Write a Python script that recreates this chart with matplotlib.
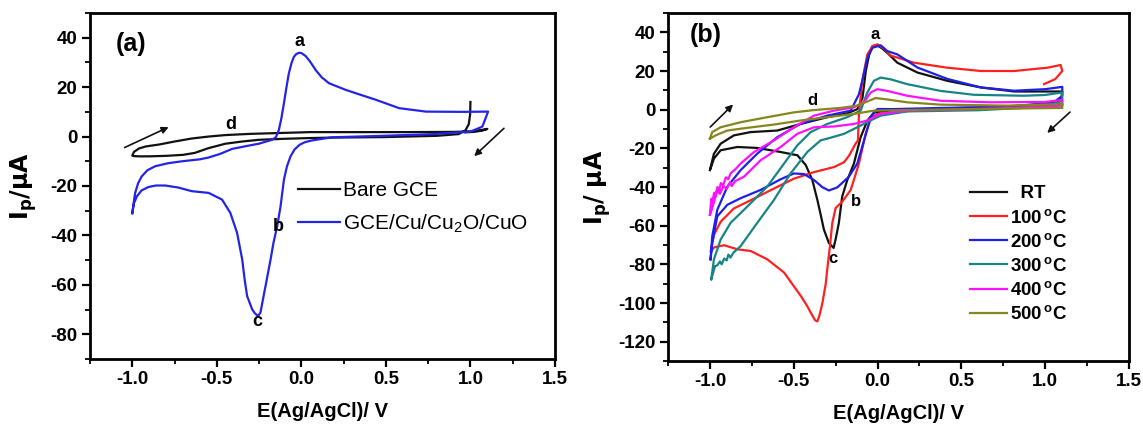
import matplotlib
matplotlib.use("Agg")
import matplotlib.pyplot as plt
from matplotlib.ticker import MultipleLocator, FuncFormatter

plt.rcParams['font.family'] = ['Liberation Sans', 'DejaVu Sans']
plt.rcParams['mathtext.default'] = 'regular'

# ---- panel (a): bare GCE vs GCE/Cu/Cu2O/CuO ----
bare_E = [1.0, 0.998, 0.99, 0.97, 0.93, 0.8, 0.5, 0.2, 0.05, -0.1, -0.25, -0.35, -0.45,
          -0.55, -0.63, -0.7, -0.8, -0.9, -0.96, -0.99, -1.0, -0.99, -0.96, -0.92,
          -0.84, -0.75, -0.65, -0.55, -0.45, -0.3, -0.15, 0.05, 0.3, 0.6, 0.9, 1.0,
          1.06, 1.1, 1.07, 1.02, 0.97]
bare_I = [14.0, 9.0, 5.0, 2.5, 1.0, 0.3, -0.2, -0.4, -0.6, -0.9, -1.3, -2.0, -2.9,
          -4.7, -6.6, -7.4, -7.8, -8.0, -8.0, -7.9, -7.7, -6.2, -4.8, -4.0,
          -3.2, -2.0, -0.8, 0.0, 0.6, 1.1, 1.4, 1.8, 1.8, 1.8, 1.9, 2.1,
          2.6, 3.1, 2.4, 1.9, 1.7]

cu_E = [-1.0, -0.99, -0.983, -0.965, -0.944, -0.91, -0.864, -0.79, -0.706, -0.6, -0.55,
        -0.48, -0.41, -0.33, -0.252, -0.173, -0.15, -0.133, -0.118, -0.103, -0.088,
        -0.074, -0.058, -0.044, -0.03, -0.014, 0.0, 0.025, 0.05, 0.085, 0.12, 0.163,
        0.262, 0.35, 0.44, 0.578, 0.737, 0.95, 1.104, 1.09, 1.07, 1.0, 0.78, 0.48,
        0.18, 0.06, 0.02, -0.01, -0.04, -0.064, -0.085, -0.103, -0.123, -0.143,
        -0.165, -0.182, -0.212, -0.242, -0.256, -0.275, -0.291, -0.321, -0.335,
        -0.35, -0.38, -0.42, -0.469, -0.548, -0.647, -0.73, -0.805, -0.86, -0.904,
        -0.945, -0.973, -0.99, -1.0]
cu_I = [-31.0, -26.0, -22.8, -18.8, -16.1, -13.6, -12.0, -10.8, -10.0, -9.2, -8.5,
        -7.0, -5.0, -3.9, -2.9, -1.3, -0.2, 2.7, 7.5, 13.5, 20.0,
        25.6, 29.8, 32.3, 33.4, 33.9, 33.8, 32.6, 30.5, 26.9, 24.0, 21.6,
        18.9, 16.9, 14.9, 11.5, 10.1, 10.0, 10.1, 7.5, 4.0, 2.0, 1.0, 0.3,
        -0.3, -1.6, -2.3, -3.3, -5.2, -8.0, -12.0, -17.4, -28.2, -36.3,
        -43.0, -49.7, -60.5, -71.2, -72.6, -71.5, -69.9, -64.5, -58.0,
        -49.7, -39.0, -30.9, -25.5, -22.8, -22.1, -20.6, -19.8, -19.8, -20.4,
        -21.8, -24.2, -27.0, -31.0]

# ---- panel (b): annealing temperature series ----
temp_labels = ['  RT', '100$^{\\,o}$C', '200$^{\\,o}$C', '300$^{\\,o}$C', '400$^{\\,o}$C',
               '500$^{\\,o}$C']
temp_colors = ['#111111', '#ff2020', '#1f1fe8', '#178585', '#ff10ff', '#86861a']

rt_E = [-1.0, -0.976, -0.936, -0.857, -0.757, -0.598, -0.459, -0.3, -0.18, -0.12, -0.09,
        -0.07, -0.05, -0.031, -0.005, 0.03, 0.058, 0.118, 0.238, 0.417, 0.616, 0.815,
        1.0, 1.102, 1.096, 1.052, 0.774, 0.376, 0.098, 0.018, -0.021, -0.061, -0.101,
        -0.141, -0.181, -0.211, -0.231, -0.25, -0.262, -0.29, -0.32, -0.34, -0.359,
        -0.389, -0.428, -0.478, -0.578, -0.717, -0.836, -0.936, -0.976, -0.996]
rt_I = [-31.3, -22.8, -17.6, -13.3, -11.6, -10.8, -7.4, -3.9, -1.9, 0.3, 6.0,
        20.0, 28.5, 32.8, 33.5, 31.5, 29.4, 24.3, 19.2, 14.9, 11.5, 9.4,
        9.4, 9.4, 5.5, 2.1, 0.9, 0.3, -0.2, -1.0, -1.4, -5.7, -14.3,
        -27.9, -36.5, -45.0, -58.7, -67.0, -71.5, -69.0, -62.0, -54.0, -46.7,
        -36.4, -28.7, -23.6, -21.9, -19.8, -19.3, -21.0, -25.3, -30.4]

t100_E = [1.102, 0.7, 0.317, -0.001, -0.041, -0.071, -0.111, -0.16, -0.21, -0.25, -0.27,
          -0.284, -0.3, -0.309, -0.329, -0.345, -0.359, -0.372, -0.389, -0.42, -0.459,
          -0.558, -0.658, -0.757, -0.837, -0.916, -0.976, -0.996, -0.976, -0.936,
          -0.857, -0.737, -0.618, -0.499, -0.379, -0.26, -0.2, -0.17, -0.131, -0.117,
          -0.111, -0.091, -0.061, -0.031, -0.001, 0.04, 0.078, 0.217, 0.417, 0.616,
          0.815, 1.013, 1.092, 1.102, 1.06, 0.993]
t100_I = [3.0, 1.5, 0.35, -2.2, -4.8, -12.5, -27.9, -41.5, -47.5, -50.9, -58.6,
          -70.6, -82.6, -90.0, -100.0, -106.0, -109.5, -109.0, -106.5, -101.5, -96.2,
          -84.2, -77.4, -73.1, -72.2, -70.1, -71.3, -73.6, -64.8, -58.0,
          -51.1, -46.0, -40.8, -35.7, -32.3, -29.7, -27.2, -23.8, -17.6, -15.9,
          -2.2, 14.9, 28.5, 32.8, 33.8, 31.5, 28.0, 24.3, 21.7, 20.0,
          20.0, 21.7, 23.1, 20.0, 15.8, 13.2]

t200_E = [-0.996, -0.986, -0.956, -0.896, -0.817, -0.717, -0.598, -0.459, -0.3, -0.16,
          -0.111, -0.091, -0.06, -0.03, 0.019, 0.058, 0.118, 0.238, 0.417, 0.616, 0.815,
          1.0, 1.102, 1.102, 1.052, 0.774, 0.376, 0.098, -0.001, -0.041, -0.081, -0.121,
          -0.171, -0.24, -0.29, -0.329, -0.379, -0.439, -0.499, -0.578, -0.697, -0.817,
          -0.896, -0.956, -0.986, -0.996]
t200_I = [-77.4, -65.5, -51.8, -39.8, -31.3, -22.7, -14.2, -7.3, -3.1, -0.5,
          8.0, 15.0, 27.0, 32.0, 33.3, 30.3, 28.6, 21.8, 15.9, 11.5, 9.8,
          10.6, 11.8, 7.2, 3.8, 1.5, 0.9, 0.3, 0.35, -4.0, -16.0, -27.9,
          -34.7, -40.2, -41.8, -40.1, -36.4, -33.3, -33.0, -36.0, -41.5, -45.8,
          -49.2, -55.2, -68.9, -77.4]

t300_E = [-0.992, -0.976, -0.936, -0.877, -0.777, -0.658, -0.558, -0.479, -0.399, -0.3,
          -0.181, -0.101, -0.061, -0.022, 0.018, 0.078, 0.177, 0.376, 0.575, 0.873, 1.0,
          1.102, 1.102, 1.0, 0.6, 0.177, 0.018, -0.042, -0.121, -0.2, -0.28, -0.34,
          -0.419, -0.519, -0.618, -0.718, -0.817, -0.86, -0.877, -0.89, -0.9, -0.915,
          -0.93, -0.94, -0.956, -0.97, -0.986, -0.992]
t300_I = [-87.7, -77.4, -67.2, -58.6, -50.1, -39.8, -27.9, -18.5, -11.6, -7.4,
          -3.9, -0.5, 8.9, 14.9, 16.6, 15.7, 13.2, 9.7, 7.7, 7.2, 7.6,
          8.9, 4.6, 1.5, -0.3, -0.9, -3.1, -5.6, -9.1, -12.5, -14.5, -15.9,
          -21.9, -33.0, -46.7, -58.6, -70.6, -74.0, -76.5, -75.0, -78.0, -77.0,
          -80.0, -78.5, -80.5, -81.0, -86.0, -87.7]

t400_E = [-1.0, -0.996, -0.99, -0.985, -0.975, -0.965, -0.955, -0.945, -0.935, -0.92,
          -0.905, -0.89, -0.877, -0.85, -0.817, -0.737, -0.618, -0.499, -0.379, -0.26,
          -0.141, -0.081, -0.041, -0.002, 0.058, 0.177, 0.376, 0.675, 1.0, 1.102, 1.102,
          0.8, 0.177, 0.018, -0.061, -0.141, -0.26, -0.379, -0.479, -0.578, -0.698,
          -0.797, -0.85, -0.87, -0.88, -0.9, -0.92, -0.94, -0.96, -0.975, -0.99, -1.0]
t400_I = [-54.4, -50.0, -46.0, -48.0, -43.0, -45.0, -40.0, -42.0, -38.0, -39.0,
          -35.0, -36.0, -33.0, -31.0, -27.9, -21.9, -15.9, -9.1, -3.1, -0.5,
          1.2, 3.8, 8.9, 10.6, 9.7, 7.2, 4.6, 3.8, 4.0, 5.0, 2.1,
          0.8, -0.5, -2.2, -5.6, -7.4, -8.7, -9.1, -12.5, -19.3, -26.2,
          -34.7, -37.0, -39.5, -37.5, -41.0, -39.5, -43.5, -42.0, -47.5, -52.0, -54.4]

t500_E = [-1.0, -0.986, -0.936, -0.817, -0.658, -0.499, -0.379, -0.22, -0.121, -0.051,
          -0.012, 0.038, 0.177, 0.376, 0.774, 1.102, 1.102, 0.575, 0.177, -0.022,
          -0.141, -0.3, -0.459, -0.618, -0.777, -0.897, -0.966, -1.0]
t500_I = [-15.0, -11.6, -9.1, -6.5, -3.9, -1.4, -0.2, 0.9, 2.1, 4.6,
          6.0, 5.5, 3.8, 2.6, 2.1, 2.9, 0.9, 0.3, -0.2, -0.5,
          -2.2, -3.9, -5.6, -7.7, -9.4, -10.8, -13.3, -15.0]

temp_E = [rt_E, t100_E, t200_E, t300_E, t400_E, t500_E]
temp_I = [rt_I, t100_I, t200_I, t300_I, t400_I, t500_I]

W, H = 1143, 426
fig = plt.figure(figsize=(W / 100, H / 100), dpi=100)
ax_a = fig.add_axes([90 / W, 1 - 359 / H, 465 / W, 346 / H])
ax_b = fig.add_axes([668 / W, 1 - 361 / H, 461 / W, 348 / H])


def style_axis(ax, ylim, ylabel, ylabelpad):
    ax.set_xlim(-1.25, 1.5)
    ax.set_ylim(*ylim)
    ax.xaxis.set_major_locator(MultipleLocator(0.5))
    ax.xaxis.set_minor_locator(MultipleLocator(0.25))
    ax.yaxis.set_major_locator(MultipleLocator(20))
    ax.yaxis.set_minor_locator(MultipleLocator(10))
    ax.tick_params(which='major', direction='out', length=6, width=1.6,
                   labelsize=13.5, pad=3)
    ax.tick_params(which='minor', direction='out', length=3.5, width=1.3)
    ax.xaxis.set_major_formatter(FuncFormatter(lambda v, p: f'{v:.1f}'))
    ax.yaxis.set_major_formatter(FuncFormatter(lambda v, p: f'{v:.0f}'))
    for lab in ax.get_xticklabels() + ax.get_yticklabels():
        lab.set_fontweight('bold')
    for s in ax.spines.values():
        s.set_linewidth(2)
    ax.set_xlabel('E(Ag/AgCl)/ V', fontsize=14.5, fontweight='bold', labelpad=10)
    ax.set_ylabel(ylabel, fontsize=17, fontweight='bold', labelpad=ylabelpad)


# panel (a)
ax_a.plot(bare_E, bare_I, color='#111111', lw=1.6, label='Bare GCE', solid_joinstyle='round')
ax_a.plot(cu_E, cu_I, color='#2424e6', lw=1.6, label='GCE/Cu/Cu$_2$O/CuO',
          solid_joinstyle='round')
style_axis(ax_a, (-90, 50), r'$\mathbf{I_p/\mu A}$', 8)
ax_a.legend(loc='upper left', bbox_to_anchor=(0.447, 0.515), frameon=False,
            fontsize=15, handlelength=2.0, handletextpad=0.15, borderpad=0,
            borderaxespad=0, labelspacing=0.6)
ax_a.text(-1.1, 37.5, '(a)', fontsize=18, fontweight='bold', va='center')
for txt, x, y in [('a', -0.01, 38.5), ('b', -0.135, -36.3), ('c', -0.26, -74.8), ('d', -0.415, 4.8)]:
    ax_a.text(x, y, txt, fontsize=13, fontweight='bold', ha='center', va='center')
ax_a.annotate('', xy=(-0.77, 4.3), xytext=(-1.06, -4.9),
              arrowprops=dict(arrowstyle='-|>', color='#111111', lw=1.2, mutation_scale=10))
ax_a.annotate('', xy=(1.01, -8.7), xytext=(1.21, 4.1),
              arrowprops=dict(arrowstyle='-|>', color='#111111', lw=1.2, mutation_scale=10))

# panel (b)
for E, I, c, lab in zip(temp_E, temp_I, temp_colors, temp_labels):
    ax_b.plot(E, I, color=c, lw=1.6, label=lab, solid_joinstyle='round')
style_axis(ax_b, (-130, 50), r'$\mathbf{I_p/\ \mu A}$', 4)
leg = ax_b.legend(loc='upper left', bbox_to_anchor=(0.655, 0.505), frameon=False,
                  fontsize=13.5, handlelength=2.0, handletextpad=0.15, borderpad=0,
                  borderaxespad=0, labelspacing=0.33)
for t in leg.get_texts():
    t.set_fontweight('bold')
ax_b.text(-1.12, 38.5, '(b)', fontsize=18, fontweight='bold', va='center')
for txt, x, y in [('a', -0.015, 39.0), ('b', -0.13, -47.4), ('c', -0.265, -77.0), ('d', -0.39, 4.9)]:
    ax_b.text(x, y, txt, fontsize=12, fontweight='bold', ha='center', va='center')
ax_b.annotate('', xy=(-0.85, 3.7), xytext=(-1.01, -10.0),
              arrowprops=dict(arrowstyle='-|>', color='#111111', lw=1.2, mutation_scale=10))
ax_b.annotate('', xy=(1.0, -13.0), xytext=(1.16, -0.3),
              arrowprops=dict(arrowstyle='-|>', color='#111111', lw=1.2, mutation_scale=10))

fig.savefig('out.png', dpi=100)
